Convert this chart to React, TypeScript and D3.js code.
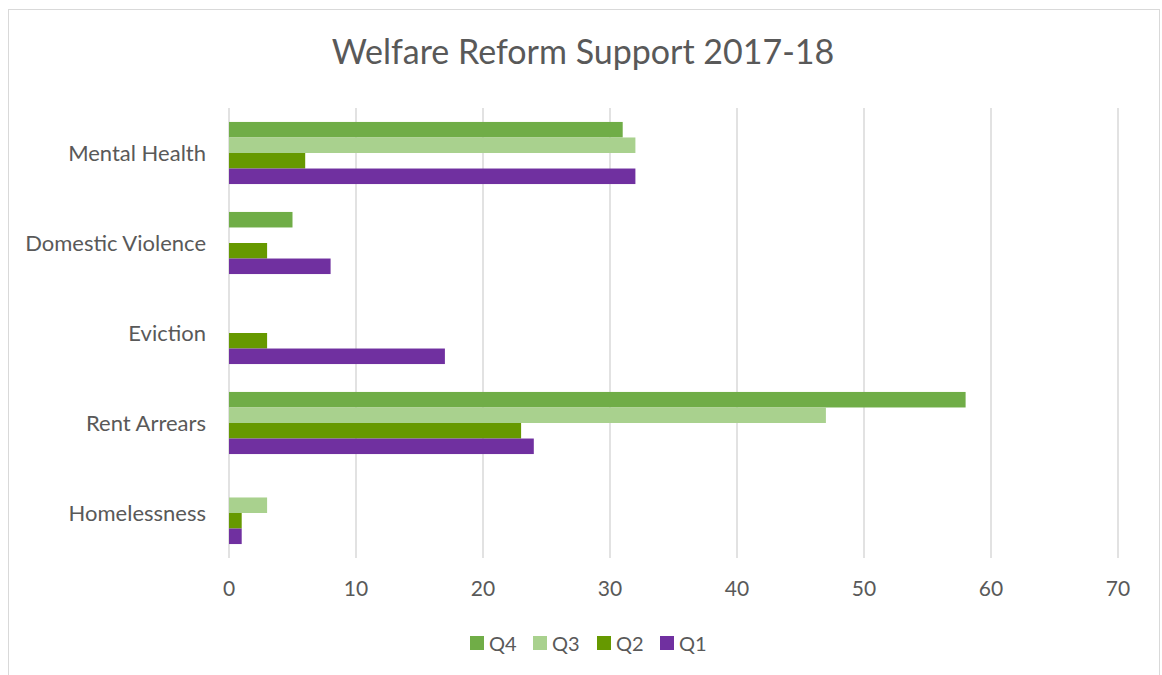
import React from "react";
import * as d3 from "d3";

const categories = ["Mental Health", "Domestic Violence", "Eviction", "Rent Arrears", "Homelessness"];
const seriesNames = ["Q4", "Q3", "Q2", "Q1"];
const seriesColors = ["#70AD47", "#A9D18E", "#669900", "#7030A0"];

// values per category, same order as categories
const q4 = [31, 5, 0, 58, 0];
const q3 = [32, 0, 0, 47, 3];
const q2 = [6, 3, 3, 23, 1];
const q1 = [32, 8, 17, 24, 1];
const seriesValues = [q4, q3, q2, q1];

const xTicks = [0, 10, 20, 30, 40, 50, 60, 70];

const font = "Lato, 'Open Sans', sans-serif";
const textColor = "#595959";

export default function App() {
  const width = 1162;
  const height = 675;

  const x = d3.scaleLinear().domain([0, 70]).range([229, 1118]);
  const y = d3
    .scaleBand<string>()
    .domain(categories)
    .range([108, 558])
    .paddingInner(0.31)
    .paddingOuter(0.155);
  const inner = d3.scaleBand<string>().domain(seriesNames).range([0, y.bandwidth()]);

  const legendX = [470, 533, 597, 660];

  return (
    <svg width={width} height={height} style={{ position: "absolute", left: 0, top: 0 }}>
      <rect x={0} y={0} width={width} height={height} fill="#fff" />
      <rect x={8.5} y={9.5} width={1151} height={680} fill="#fff" stroke="#D9D9D9" strokeWidth={1} />

      <text
        x={583}
        y={64}
        textAnchor="middle"
        fill={textColor}
        style={{ fontFamily: font, fontSize: 34 }}
      >
        Welfare Reform Support 2017-18
      </text>

      {/* gridlines */}
      {xTicks.map((t) => (
        <line key={t} x1={x(t)} x2={x(t)} y1={108} y2={558} stroke="#D9D9D9" strokeWidth={1.5} />
      ))}

      {/* bars */}
      {categories.map((c, ci) => (
        <g key={c} transform={`translate(0, ${y(c)})`}>
          {seriesNames.map((s, si) => {
            const v = seriesValues[si][ci];
            if (!v) return null;
            return (
              <rect
                key={s}
                x={x(0)}
                y={inner(s)}
                width={x(v) - x(0)}
                height={inner.bandwidth()}
                fill={seriesColors[si]}
              />
            );
          })}
        </g>
      ))}

      {/* category labels */}
      {categories.map((c) => (
        <text
          key={c}
          x={206}
          y={(y(c) ?? 0) + y.bandwidth() / 2 - 1}
          textAnchor="end"
          dominantBaseline="central"
          fill={textColor}
          style={{ fontFamily: font, fontSize: 22 }}
        >
          {c}
        </text>
      ))}

      {/* x tick labels */}
      {xTicks.map((t) => (
        <text
          key={t}
          x={x(t)}
          y={587}
          textAnchor="middle"
          dominantBaseline="central"
          fill={textColor}
          style={{ fontFamily: font, fontSize: 21 }}
        >
          {t}
        </text>
      ))}

      {/* legend */}
      {seriesNames.map((s, i) => (
        <g key={s} transform={`translate(${legendX[i]}, 643)`}>
          <rect x={0} y={-7} width={14} height={14} fill={seriesColors[i]} />
          <text
            x={19}
            y={0}
            dominantBaseline="central"
            fill={textColor}
            style={{ fontFamily: font, fontSize: 20 }}
          >
            {s}
          </text>
        </g>
      ))}
    </svg>
  );
}
